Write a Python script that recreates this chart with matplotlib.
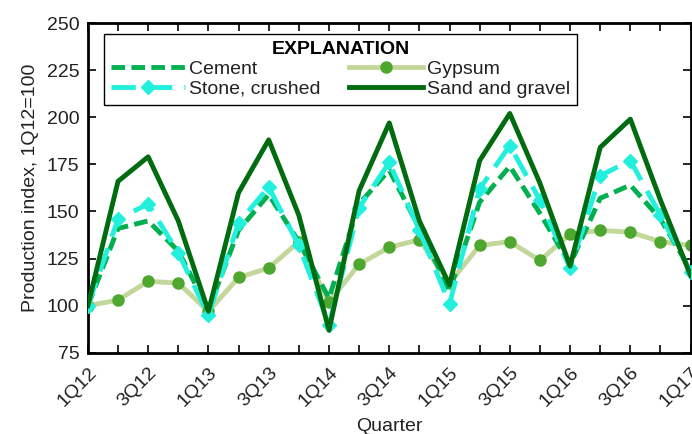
import matplotlib
matplotlib.use("Agg")
import matplotlib.pyplot as plt

plt.rcParams['font.family'] = ['Liberation Sans Narrow', 'Liberation Sans', 'DejaVu Sans']

quarters = ["1Q12", "2Q12", "3Q12", "4Q12", "1Q13", "2Q13", "3Q13", "4Q13",
            "1Q14", "2Q14", "3Q14", "4Q14", "1Q15", "2Q15", "3Q15", "4Q15",
            "1Q16", "2Q16", "3Q16", "4Q16", "1Q17"]
cement = [100, 141, 145, 129, 98, 140, 159, 134, 104, 154, 172, 141, 108, 155, 174, 149, 122, 157, 164, 146, 119]
stone = [100, 146, 154, 128, 95, 144, 163, 132, 90, 152, 176, 140, 101, 162, 185, 156, 120, 169, 177, 148, 118]
gypsum = [100, 103, 113, 112, 97, 115, 120, 134, 102, 122, 131, 135, 112, 132, 134, 124, 138, 140, 139, 134, 132]
sand = [100, 166, 179, 145, 97, 160, 188, 148, 87, 161, 197, 145, 111, 177, 202, 165, 121, 184, 199, 156, 116]
yticks = [75, 100, 125, 150, 175, 200, 225, 250]

x = list(range(len(quarters)))

fig = plt.figure(figsize=(6.92, 4.34), dpi=100)
ax = fig.add_axes([0.127, 0.187, 0.871, 0.76])

lg, = ax.plot(x, gypsum, color='#C4D79B', lw=3.5, marker='o', ms=8,
              mfc='#4EA72E', mec='#4EA72E', label='Gypsum', zorder=2)
lc, = ax.plot(x, cement, color='#00B050', lw=3.5, dashes=(2.8, 1.3),
              label='Cement', zorder=3)
ls, = ax.plot(x, stone, color='#22F0DD', lw=3.5, dashes=(5, 2.5), marker='D', ms=7,
              mfc='#22F0DD', mec='#22F0DD', label='Stone, crushed', zorder=4)
lsg, = ax.plot(x, sand, color='#006B0F', lw=3.5, label='Sand and gravel', zorder=5)

ax.set_xlim(0, 20)
ax.set_ylim(75, 250)
ax.set_yticks(yticks)
ax.set_xticks(x)
ax.set_xticklabels([q if i % 2 == 0 else '' for i, q in enumerate(quarters)],
                   rotation=45, ha='right', va='top', rotation_mode='anchor')
ax.tick_params(direction='in', top=True, right=True, length=6, width=1.2,
               labelsize=14, pad=6, colors='black', labelcolor='#222222')
ax.tick_params(axis='x', pad=8)
for s in ax.spines.values():
    s.set_linewidth(2)

ax.set_ylabel('Production index, 1Q12=100', fontsize=14, labelpad=6, color='#222222')
ax.set_xlabel('Quarter', fontsize=14, labelpad=6, color='#222222')

leg = ax.legend(handles=[lc, ls, lg, lsg], ncol=2, loc='upper left',
                bbox_to_anchor=(0.027, 0.966), title='EXPLANATION',
                fontsize=14, title_fontproperties={'weight': 'bold', 'size': 14},
                fancybox=False, edgecolor='black', framealpha=1,
                handlelength=3.8, handletextpad=0.2, columnspacing=1.5,
                borderpad=0.35, labelspacing=0.12, borderaxespad=0, numpoints=1)
leg.get_frame().set_linewidth(1)
for t in leg.get_texts():
    t.set_color('#222222')

fig.savefig('out.png', dpi=100)
